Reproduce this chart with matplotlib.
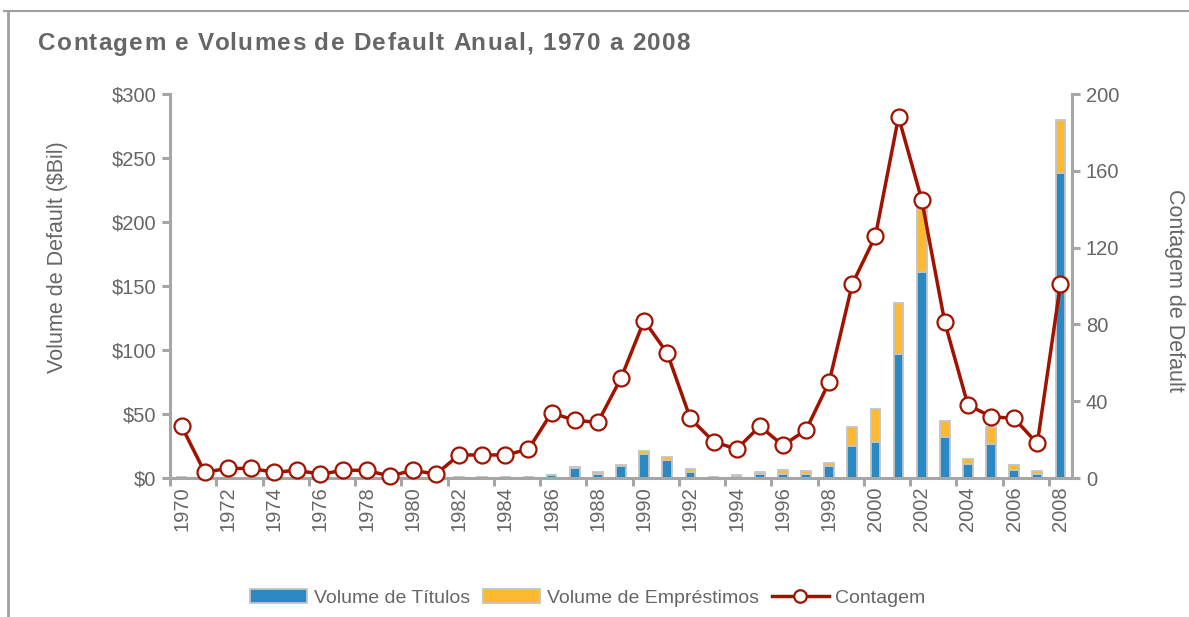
import matplotlib
matplotlib.use("Agg")
import matplotlib.pyplot as plt
from matplotlib.lines import Line2D
from matplotlib.patches import Patch
from matplotlib.font_manager import FontProperties
import numpy as np

plt.rcParams['font.family'] = ['Liberation Sans', 'DejaVu Sans']

years = list(range(1970, 2009))
bond_volume = [1.0, 0.3, 0.3, 0.3, 0.3, 0.3, 0.3, 0.3, 0.3, 0.3, 0.3, 0.3, 0.5, 0.5, 0.5, 0.5,
               2.0, 8.0, 3.0, 9.4, 18.7, 14.0, 4.4, 0.5, 1.5, 3.0, 3.0, 3.0, 9.4, 25.0, 28.5,
               97.0, 161.0, 32.3, 10.7, 26.3, 6.3, 3.0, 238.0]
loan_volume = [0, 0, 0, 0, 0, 0, 0, 0, 0, 0, 0, 0, 0, 0, 0, 0,
               0.5, 0.5, 2.0, 0.8, 2.5, 2.5, 3.0, 0.5, 0.8, 1.4, 3.0, 2.7, 2.0, 14.6, 25.2,
               40.0, 50.0, 12.2, 3.9, 13.3, 4.0, 2.5, 42.0]
default_count = [27, 3, 5, 5, 3, 4, 2, 4, 4, 1, 4, 2, 12, 12, 12, 15, 34, 30, 29, 52, 82, 65,
                 31, 19, 15, 27, 17, 25, 50, 101, 126, 188, 145, 81, 38, 32, 31, 18, 101]
left_ticks = [0, 50, 100, 150, 200, 250, 300]
left_labels = ['$0', '$50', '$100', '$150', '$200', '$250', '$300']
right_ticks = [0, 40, 80, 120, 160, 200]
title = 'Contagem e Volumes de Default Anual, 1970 a 2008'

BLUE = '#2A88C2'
YELLOW = '#FDB930'
RED = '#A01300'
GRAY = '#A6A6A6'
TEXT = '#666666'
EDGE = '#C4C4C4'

W, H = 1189, 617
fig = plt.figure(figsize=(W / 100, H / 100), dpi=100)
ax = fig.add_axes([170/W, 1-478/H, (1072-170)/W, (478-94)/H])
x = np.arange(len(years))

ax.bar(x, bond_volume, width=0.42, color=BLUE, edgecolor=EDGE, linewidth=1.3, zorder=2)
ax.bar(x, loan_volume, width=0.42, bottom=bond_volume, color=YELLOW, edgecolor=EDGE,
       linewidth=1.3, zorder=2)

ax.set_xlim(-0.5, len(years) - 0.5)
ax.set_ylim(0, 300)
ax.set_yticks(left_ticks)
ax.set_yticklabels(left_labels)

ax.set_xticks(np.arange(-0.5, len(years) - 0.5, 2))
ax.set_xticklabels([])
ax.set_xticks(x[::2], minor=True)
ax.set_xticklabels([str(y) for y in years[::2]], minor=True, rotation=90)
ax.tick_params(axis='x', which='major', length=6, width=2.2, color=GRAY, direction='out')
ax.tick_params(axis='x', which='minor', length=0, pad=6, labelsize=14.5, labelcolor=TEXT)
ax.tick_params(axis='y', length=6, width=2.2, color=GRAY, labelsize=14.5, labelcolor=TEXT, pad=4)

for s in ['top', 'right']:
    ax.spines[s].set_visible(False)
for s in ['left', 'bottom']:
    ax.spines[s].set_color(GRAY)
    ax.spines[s].set_linewidth(2.2)

ax.set_ylabel('Volume de Default ($Bil)', fontsize=15.5, color=TEXT, va='center')
ax.yaxis.set_label_coords((58 - 170) / (1072 - 170), (478 - 257) / 384)

ax2 = ax.twinx()
ax2.plot(x, default_count, color=RED, linewidth=2.5, marker='o', markersize=11.5,
         markerfacecolor='white', markeredgecolor=RED, markeredgewidth=1.6, zorder=3,
         clip_on=False)
ax2.set_ylim(0, 200)
ax2.set_yticks(right_ticks)
ax2.tick_params(axis='y', length=6, width=2.2, color=GRAY, labelsize=14.5, labelcolor=TEXT, pad=4)
for s in ['top', 'left', 'bottom']:
    ax2.spines[s].set_visible(False)
ax2.spines['right'].set_color(GRAY)
ax2.spines['right'].set_linewidth(2.2)
ax2.set_ylabel('Contagem de Default', fontsize=15.5, color=TEXT, rotation=270, va='center')
ax2.yaxis.set_label_coords((1175 - 170) / (1072 - 170), (478 - 290) / 384)

# letter-spaced title
renderer = fig.canvas.get_renderer()
prop = FontProperties(family=['Liberation Sans', 'DejaVu Sans'], weight='bold', size=17.5)
full_w, _, _ = renderer.get_text_width_height_descent(title, prop, ismath=False)
target_w = 690 - 38
spacing = (target_w - full_w) / (len(title) - 1)
for i, ch in enumerate(title):
    pre_w = renderer.get_text_width_height_descent(title[:i], prop, ismath=False)[0] if i else 0
    fig.text((38 + pre_w + i * spacing) / W, 1 - 44 / H, ch, fontproperties=prop,
             color='#666666', va='center', ha='left')

handles = [Patch(facecolor=BLUE, edgecolor=EDGE, linewidth=1.3),
           Patch(facecolor=YELLOW, edgecolor=EDGE, linewidth=1.3),
           Line2D([0], [0], color=RED, linewidth=2.5, marker='o', markersize=9,
                  markerfacecolor='white', markeredgecolor=RED, markeredgewidth=1.6)]
leg = fig.legend(handles, ['Volume de Títulos', 'Volume de Empréstimos', 'Contagem'],
                 loc='center', bbox_to_anchor=(588/W, 1-598/H), ncol=3, frameon=False,
                 fontsize=14, handlelength=2.9, handleheight=0.75, handletextpad=0.35,
                 columnspacing=0.7, labelcolor=TEXT)

fig.add_artist(Line2D([4/W, 1], [1-11/H, 1-11/H], color='#A0A0A0', linewidth=1.5,
                      transform=fig.transFigure))
fig.add_artist(Line2D([8/W, 8/W], [1-11/H, 0], color='#A0A0A0', linewidth=2,
                      transform=fig.transFigure))

fig.savefig('out.png', dpi=100)
